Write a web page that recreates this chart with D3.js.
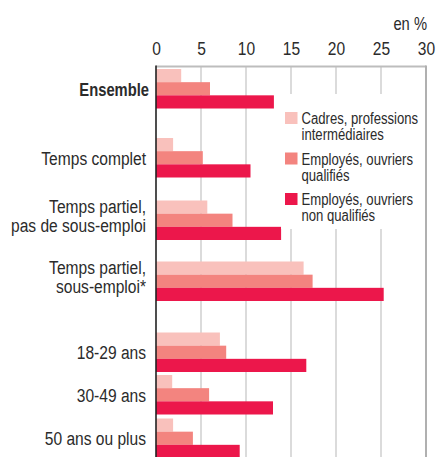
<!DOCTYPE html>
<html lang="fr">
<head>
  <meta charset="UTF-8">
  <title>Sous-emploi</title>
  <script src="https://d3js.org/d3.v7.min.js"></script>
  <style>
    body { margin: 0; padding: 0; background: #fff; }
    svg { display: block; font-family: "Liberation Sans", Arial, sans-serif; }
    .lab { fill: #2b2b2b; font-size: 19px; }
    .tick text { fill: #2b2b2b; font-size: 19px; }
    .leg text { fill: #2b2b2b; font-size: 16px; }
  </style>
</head>
<body>
  <script>
    // categories (line breaks as in the source)
    var categories = [
      ["Ensemble"],
      ["Temps complet"],
      ["Temps partiel,", "pas de sous-emploi"],
      ["Temps partiel,", "sous-emploi*"],
      ["18-29 ans"],
      ["30-49 ans"],
      ["50 ans ou plus"]
    ];
    var seriesNames = [
      ["Cadres, professions", "intermédiaires"],
      ["Employés, ouvriers", "qualifiés"],
      ["Employés, ouvriers", "non qualifiés"]
    ];
    var cadres    = [2.8, 1.9, 5.7, 16.4, 7.1, 1.8, 1.9];
    var qualifies = [6.0, 5.2, 8.5, 17.4, 7.8, 5.9, 4.1];
    var nonQualif = [13.1, 10.5, 13.9, 25.3, 16.7, 13.0, 9.3];
    var tickValues = [0, 5, 10, 15, 20, 25, 30];

    var colors = ["#f9c1bc", "#f3847f", "#ec174b"];
    var W = 437, H = 457;
    var narrow = "scale(0.82,1)"; // no condensed font installed, squeeze Liberation Sans

    var svg = d3.select("body").append("svg")
        .attr("width", W)
        .attr("height", H);

    var x = d3.scaleLinear().domain([0, 30]).range([156, 426]);

    // vertical layout: groups are not evenly spaced in the original
    var groupH = 39.5;
    var gapBefore = [0, 29.5, 23, 21.5, 31.5, 3, 4];
    var tops = [];
    var t = 69;
    gapBefore.forEach(function(g, i) {
      t += g;
      tops.push(t);
      t += groupH;
    });
    var y = d3.scaleOrdinal().domain(d3.range(categories.length)).range(tops);
    var inner = d3.scaleBand().domain([0, 1, 2]).range([0, groupH]);

    // grid
    svg.append("g").selectAll("line")
      .data(tickValues.filter(function(d) { return d > 0 && d < 30; }))
      .enter().append("line")
        .attr("x1", function(d) { return x(d); })
        .attr("x2", function(d) { return x(d); })
        .attr("y1", 66.5).attr("y2", H)
        .attr("stroke", "#cfcfcf")
        .attr("stroke-width", 1.5);

    svg.append("line")
        .attr("x1", x(0)).attr("x2", x(30))
        .attr("y1", 66.5).attr("y2", 66.5)
        .attr("stroke", "#bdbdbd").attr("stroke-width", 2);
    svg.append("line")
        .attr("x1", x(30)).attr("x2", x(30))
        .attr("y1", 65.5).attr("y2", H)
        .attr("stroke", "#b0b0b0").attr("stroke-width", 2);

    // bars
    var series = [cadres, qualifies, nonQualif];
    series.forEach(function(vals, s) {
      svg.append("g").selectAll("rect")
        .data(vals)
        .enter().append("rect")
          .attr("x", x(0))
          .attr("y", function(d, i) { return y(i) + inner(s); })
          .attr("width", function(d) { return x(d) - x(0); })
          .attr("height", inner.bandwidth())
          .attr("fill", colors[s]);
    });

    // zero axis
    svg.append("line")
        .attr("x1", x(0)).attr("x2", x(0))
        .attr("y1", 65.5).attr("y2", H)
        .attr("stroke", "#222").attr("stroke-width", 1.6);

    // top axis
    var axis = svg.append("g")
        .attr("transform", "translate(0,55)")
        .call(d3.axisTop(x).tickValues(tickValues).tickSize(0).tickPadding(0));
    axis.select(".domain").remove();
    axis.selectAll("text")
        .attr("font-family", null).attr("font-size", null)
        .attr("transform", narrow);

    svg.append("g")
        .attr("transform", "translate(427,30) " + narrow)
      .append("text")
        .attr("class", "lab")
        .attr("text-anchor", "end")
        .style("font-size", "18px")
        .text("en %");

    // category labels
    categories.forEach(function(lines, i) {
      var c = y(i) + groupH / 2;
      var bold = i === 0;
      var txt = svg.append("g")
          .attr("transform", "translate(" + (bold ? 149 : 146) + ",0) " + narrow)
        .append("text")
          .attr("class", "lab")
          .attr("text-anchor", "end")
          .attr("font-weight", bold ? "bold" : null)
          .style("font-size", bold ? "18px" : null);
      lines.forEach(function(l, k) {
        txt.append("tspan")
          .attr("x", 0)
          .attr("y", c + 7 - (lines.length - 1) * 14 + k * 19)
          .text(l);
      });
    });

    // legend (white box hides grid)
    var leg = svg.append("g").attr("class", "leg");
    leg.append("rect")
        .attr("x", 281).attr("y", 94)
        .attr("width", 143).attr("height", 135)
        .attr("fill", "#fff");
    seriesNames.forEach(function(lines, s) {
      var base = 124.5 + s * 40.5;
      leg.append("rect")
          .attr("x", 285).attr("y", base - 12.5)
          .attr("width", 12.5).attr("height", 12)
          .attr("fill", colors[s]);
      var txt = leg.append("g")
          .attr("transform", "translate(301.5,0) " + narrow)
        .append("text");
      lines.forEach(function(l, k) {
        txt.append("tspan")
          .attr("x", 0)
          .attr("y", base + k * 15.8)
          .text(l);
      });
    });
  </script>
</body>
</html>
